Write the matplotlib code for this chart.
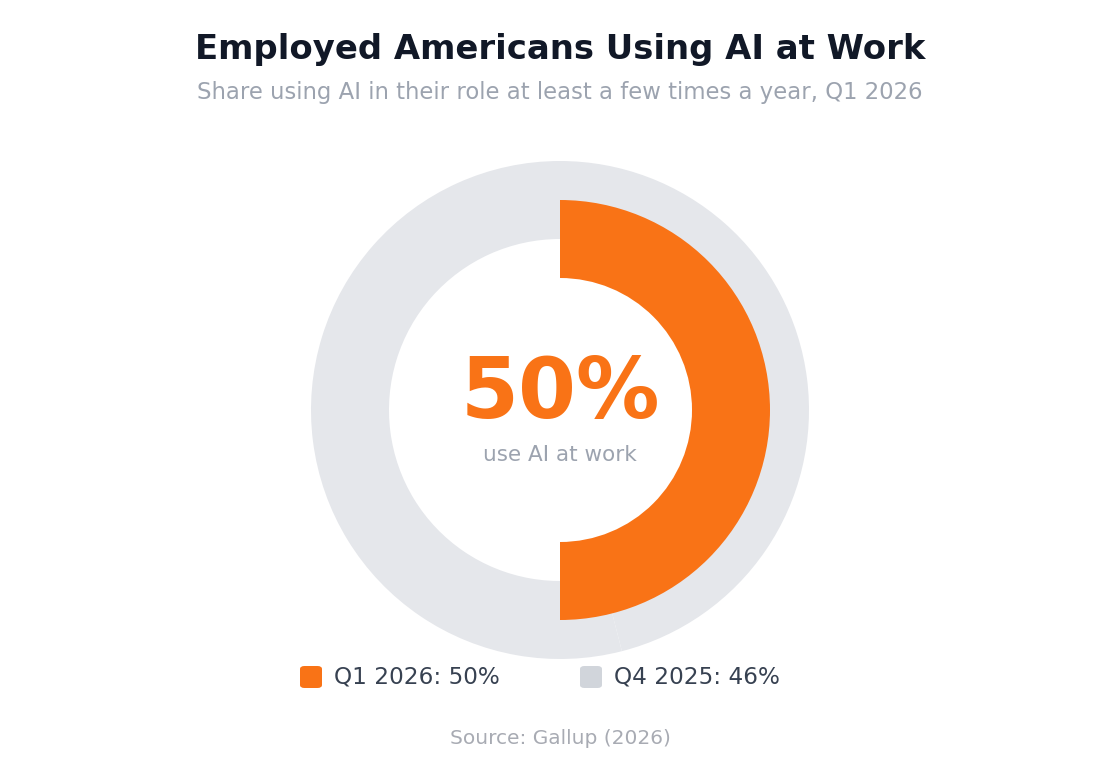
import matplotlib
matplotlib.use("Agg")
import matplotlib.pyplot as plt
from matplotlib.patches import FancyBboxPatch

plt.rcParams["font.family"] = ["DejaVu Sans"]

# data
labels = ["Q1 2026", "Q4 2025"]
values = [50, 46]
colors = ["#F97316", "#D1D5DB"]
track_color = "#E5E7EB"

W, H = 1120, 760
fig = plt.figure(figsize=(W / 100, H / 100), dpi=100)
fig.patch.set_facecolor("white")

# square axes, 1 data unit = 1 pixel, centred on the ring
cx, cy, half = 560, 410, 300
ax = fig.add_axes([(cx - half) / W, (H - cy - half) / H, 2 * half / W, 2 * half / H])

# outer ring: previous quarter on a full track
ax.pie([values[1], 100 - values[1]], radius=249, startangle=90, counterclock=False,
       colors=[track_color, track_color], wedgeprops=dict(width=78, linewidth=0),
       center=(0, 0), frame=True)
# inner ring: current quarter
ax.pie([values[0], 100 - values[0]], radius=210, startangle=90, counterclock=False,
       colors=[colors[0], "none"], wedgeprops=dict(width=78, linewidth=0),
       center=(0, 0), frame=True)
ax.set_xlim(-half, half)
ax.set_ylim(-half, half)
ax.set_aspect("equal")
ax.axis("off")

ax.text(0, 16, f"{values[0]}%", ha="center", va="center", fontsize=60,
        fontweight="bold", color=colors[0])
ax.text(0, -45, "use AI at work", ha="center", va="center", fontsize=15.5,
        color="#9CA3AF")

fig.text(0.5, 1 - 49 / H, "Employed Americans Using AI at Work", ha="center",
         va="center", fontsize=24.4, fontweight="bold", color="#111827")
fig.text(0.5, 1 - 93 / H, "Share using AI in their role at least a few times a year, Q1 2026",
         ha="center", va="center", fontsize=16.4, color="#9CA3AF")

# legend
ly = 677
for i, (lab, val, col) in enumerate(zip(labels, values, colors)):
    x0 = 300 + i * 280
    box = FancyBboxPatch(((x0) / W, (H - ly - 11) / H), 22 / W, 22 / H,
                         boxstyle="round,pad=0,rounding_size=0.004",
                         transform=fig.transFigure, facecolor=col, edgecolor="none")
    fig.patches.append(box)
    fig.text((x0 + 34) / W, 1 - ly / H, f"{lab}: {val}%", ha="left", va="center",
             fontsize=16.7, color="#374151")

fig.text(0.5, 1 - 738 / H, "Source: Gallup (2026)", ha="center", va="center",
         fontsize=14.5, color="#A8ABB3")

fig.savefig("out.png", dpi=100, facecolor="white")
